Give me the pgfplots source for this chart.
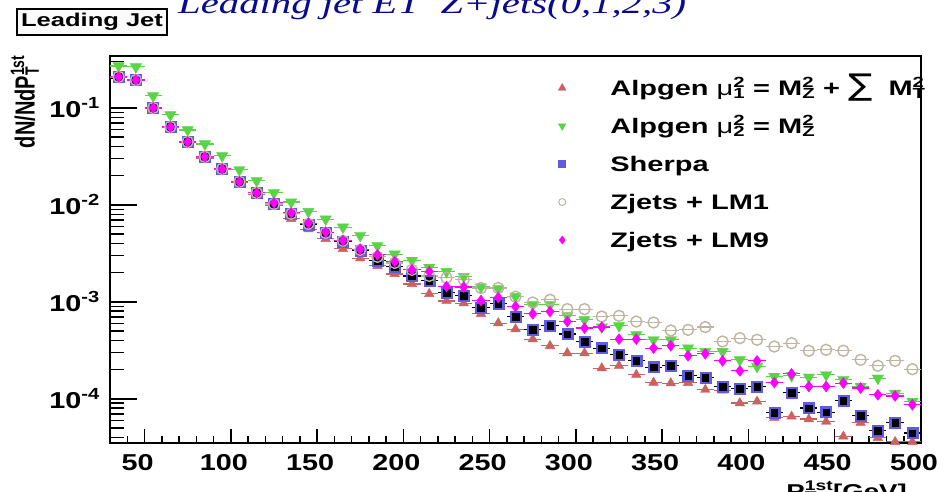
\documentclass[border=0pt]{standalone}
\usepackage{fontspec}
\setmainfont{Liberation Sans}[FakeStretch=1.38]
\newfontfamily\tickfont{Liberation Sans}[FakeStretch=1.25]
\newfontfamily\titlefont{Liberation Serif}[FakeStretch=1.38]
\newfontfamily\sumfont{DejaVu Sans}[FakeStretch=1.2]
\newfontfamily\plainsans{Liberation Sans}
\usepackage{pgfplots}
\usepackage{pgfplotstable}
\pgfplotsset{compat=1.18}
\definecolor{aRed}{RGB}{205,96,96}
\definecolor{aGreen}{RGB}{89,212,70}
\definecolor{shBlue}{RGB}{95,90,225}
\definecolor{lmGray}{RGB}{190,180,160}
\definecolor{lmMag}{RGB}{255,0,255}
\definecolor{titleBlue}{RGB}{10,10,140}
\newcommand\supsub[2]{\mbox{\setbox0\hbox{\textsuperscript{#1}}\setbox2\hbox{\textsubscript{#2}}\ifdim\wd0>\wd2 \rlap{\box2}\box0 \else\rlap{\box0}\box2 \fi}}

\pgfplotstableread{
x    a1       a2       sh       lm1      lm9
35   0.204    0.271    0.209    0.209    0.209
45   0.190    0.265    0.194    0.194    0.194
55   0.0977   0.133    0.100    0.100    0.100
65   0.0622   0.0847   0.0637   0.0637   0.0637
75   0.0436   0.0593   0.0446   0.0446   0.0446
85   0.0305   0.0425   0.0313   0.0313   0.0313
95   0.0230   0.0320   0.0235   0.0235   0.0235
105  0.0169   0.0230   0.0173   0.0173   0.0173
115  0.0127   0.0177   0.0133   0.0133   0.0133
125  0.00977  0.0133   0.0102   0.0102   0.0105
135  0.00717  0.0107   0.00808  0.00808  0.00827
145  0.00562  0.00853  0.00622  0.00637  0.00648
155  0.00446  0.00712  0.00514  0.00514  0.00523
165  0.00352  0.00589  0.00416  0.00426  0.00429
175  0.00282  0.00483  0.00336  0.00344  0.00349
185  0.00235  0.00378  0.00267  0.00291  0.00305
195  0.00194  0.00310  0.00231  0.00252  0.00260
205  0.00153  0.00267  0.00185  0.00214  0.00214
215  0.00121  0.00226  0.00165  0.00185  0.00205
225  0.00102  0.00205  0.00125  0.00177  0.00144
235  0.000970 0.00182  0.00116  0.00169  0.00142
245  0.000752 0.00142  0.000873 0.00139  0.00103
255  0.000603 0.00136  0.000954 0.00139  0.00111
265  0.000523 0.00113  0.000705 0.00113  0.000894
275  0.000412 0.000931 0.000514 0.000984 0.000752
285  0.000352 0.000931 0.000566 0.00105  0.000794
295  0.000296 0.000717 0.000465 0.000841 0.000626
305  0.000296 0.000652 0.000390 0.000841 0.000536
315  0.000207 0.000549 0.000333 0.000705 0.000549
325  0.000219 0.000566 0.000284 0.000717 0.000412
335  0.000177 0.000457 0.000248 0.000626 0.000412
345  0.000147 0.000406 0.000212 0.000612 0.000333
355  0.000145 0.000406 0.000219 0.000506 0.000352
365  0.000146 0.000333 0.000173 0.000514 0.000277
375  0.000124 0.000307 0.000165 0.000549 0.000291
385  0.000122 0.000307 0.000133 0.000390 0.000246
395  9.03e-5  0.000252 0.000127 0.000422 0.000194
405  9.38e-5  0.000215 0.000134 0.000406 0.000246
415  6.37e-5  0.000170 7.22e-5  0.000346 0.000147
425  6.57e-5  0.000173 0.000116 0.000375 0.000181
435  6.18e-5  0.000167 8.02e-5  0.000313 0.000134
445  5.83e-5  0.000177 7.29e-5  0.000320 0.000134
455  4.09e-5  0.000157 9.54e-5  0.000313 0.000145
465  5.66e-5  0.000134 6.68e-5  0.000252 0.000129
475  3.96e-5  0.000163 4.71e-5  0.000219 0.000110
485  3.60e-5  0.000114 5.70e-5  0.000246 0.000107
495  3.60e-5  9.38e-5  4.43e-5  0.000202 8.67e-5
}\data

\begin{document}
\begin{tikzpicture}[x=1pt,y=1pt]
\useasboundingbox (-110,-48) rectangle (837,443);
\clip (-110,-48) rectangle (837,443);
\begin{axis}[
  at={(0,0)}, anchor=south west,
  scale only axis, width=811pt, height=387pt,
  xmin=30, xmax=500,
  ymode=log, ymin=3.5e-5, ymax=0.343,
  axis line style={line width=1.5pt, black},
  tick align=inside,
  xtick pos=bottom, ytick pos=left,
  xtick={50,100,...,500},
  xticklabels={50,100,150,200,250,300,350,400,450,500},
  minor xtick={30,40,...,500},
  ytick={1e-4,1e-3,1e-2,1e-1},
  yticklabels={10\textsuperscript{-4},10\textsuperscript{-3},10\textsuperscript{-2},10\textsuperscript{-1}},
  minor ytick={4e-5,5e-5,6e-5,7e-5,8e-5,9e-5,2e-4,3e-4,4e-4,5e-4,6e-4,7e-4,8e-4,9e-4,2e-3,3e-3,4e-3,5e-3,6e-3,7e-3,8e-3,9e-3,2e-2,3e-2,4e-2,5e-2,6e-2,7e-2,8e-2,9e-2,2e-1,3e-1},
  major tick length=14pt, minor tick length=7pt,
  ytick style={/pgfplots/major tick length=27pt,/pgfplots/minor tick length=14pt},
  tick style={line width=1.5pt, black},
  xticklabel style={font=\tickfont\bfseries\fontsize{23}{23}\selectfont, anchor=north, inner sep=0pt, yshift=-11pt, xshift=-7pt},
  yticklabel style={font=\tickfont\bfseries\fontsize{23}{23}\selectfont, anchor=east, inner sep=0pt, xshift=-10pt},
  legend image code/.code={\draw[#1] plot coordinates {(0pt,7pt)}; \path (-10pt,0pt) (48pt,0pt);},
  legend style={draw=none, fill=none, at={(0.545,0.9354)}, anchor=north west, inner sep=0pt, outer sep=0pt,
    row sep=19pt, column sep=0pt, font=\bfseries\fontsize{21}{21}\selectfont,
    cells={anchor=base west},
    nodes={inner sep=0pt, text height=14pt, text depth=5pt}},
]
\addplot[forget plot, only marks, mark=triangle*, mark size=5.5pt, color=aRed,
  error bars/.cd, x dir=both, x fixed=5, error mark=none, error bar style={line width=1.2pt, aRed}]
  table[x=x,y=a1]{\data};
\addplot[forget plot, only marks, mark=triangle*, mark size=6.5pt, mark options={rotate=180}, color=aGreen,
  error bars/.cd, x dir=both, x fixed=5, error mark=none, error bar style={line width=1.2pt, aGreen}]
  table[x=x,y=a2]{\data};
\addplot[forget plot, only marks, mark=square*, mark size=5.5pt, color=shBlue,
  error bars/.cd, x dir=both, x fixed=5, error mark=none, error bar style={line width=1.2pt, black}]
  table[x=x,y=sh]{\data};
\addplot[forget plot, only marks, mark=square*, mark size=3.3pt, color=black]
  table[x=x,y=sh]{\data};
\addplot[forget plot, only marks, mark=o, mark size=5.5pt, mark options={line width=1.4pt}, color=lmGray,
  error bars/.cd, x dir=both, x fixed=5, error mark=none, error bar style={line width=1.2pt, lmGray}]
  table[x=x,y=lm1]{\data};
\addplot[forget plot, only marks, mark=diamond*, mark size=5.5pt, color=lmMag,
  error bars/.cd, x dir=both, x fixed=5, error mark=none, error bar style={line width=1.2pt, lmMag}]
  table[x=x,y=lm9]{\data};

\addlegendimage{only marks, mark=triangle*, mark size=4.5pt, color=aRed}
\addlegendentry{Alpgen {\mdseries μ}\supsub{2}{1} = M\supsub{2}{Z} + {\sumfont\mdseries\fontsize{30}{30}\selectfont ∑}\ \ M\supsub{2}{T}}
\addlegendimage{only marks, mark=triangle*, mark size=4.5pt, mark options={rotate=180}, color=aGreen}
\addlegendentry{Alpgen {\mdseries μ}\supsub{2}{2} = M\supsub{2}{Z}}
\addlegendimage{only marks, mark=square*, mark size=3.5pt, color=shBlue}
\addlegendentry{Sherpa}
\addlegendimage{only marks, mark=o, mark size=3.5pt, mark options={line width=1pt}, color=lmGray}
\addlegendentry{Zjets + LM1}
\addlegendimage{only marks, mark=diamond*, mark size=4pt, color=lmMag}
\addlegendentry{Zjets + LM9}
\end{axis}
\node[anchor=base west, text=titleBlue, inner sep=0pt] at (68,429)
  {\titlefont\itshape\fontsize{29.5}{30}\selectfont Leading jet ET\ \ Z+jets(0,1,2,3)};
\node[draw, line width=1.3pt, fill=white!96!gray, minimum width=150pt, minimum height=26pt, inner sep=0pt] at (-18,421)
  {\bfseries\fontsize{18.5}{18.5}\selectfont Leading Jet};
\node[anchor=north east, inner sep=0pt] at (-71,388)
  {\rotatebox{90}{\scalebox{1}[1.38]{\plainsans\bfseries\fontsize{20}{20}\selectfont dN/NdP\supsub{1st}{T}}}};
\node[anchor=base east, inner sep=0pt] at (797,-55)
  {\bfseries\fontsize{20}{20}\selectfont P\supsub{1st}{T}[GeV]};
\end{tikzpicture}
\end{document}
